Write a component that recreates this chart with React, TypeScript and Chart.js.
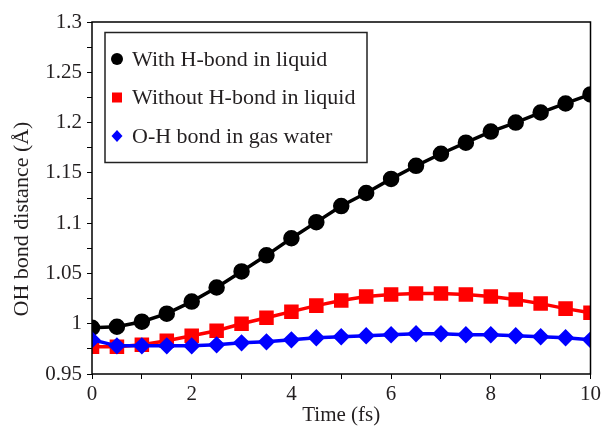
import React, { useEffect, useRef } from "react";
import { Chart, registerables } from "chart.js";

Chart.register(...registerables);

const times = [0, 0.5, 1, 1.5, 2, 2.5, 3, 3.5, 4, 4.5, 5, 5.5, 6, 6.5, 7, 7.5, 8, 8.5, 9, 9.5, 10];
const withHBond = [0.996, 0.997, 1.002, 1.01, 1.022, 1.036, 1.052, 1.068, 1.085, 1.101, 1.117, 1.13, 1.144, 1.157, 1.169, 1.18, 1.191, 1.2, 1.21, 1.219, 1.228];
const withoutHBond = [0.977, 0.977, 0.979, 0.983, 0.988, 0.993, 1.0, 1.006, 1.012, 1.018, 1.023, 1.027, 1.029, 1.03, 1.03, 1.029, 1.027, 1.024, 1.02, 1.015, 1.011];
const gasWater = [0.984, 0.978, 0.978, 0.978, 0.978, 0.979, 0.981, 0.982, 0.984, 0.986, 0.987, 0.988, 0.989, 0.99, 0.99, 0.989, 0.989, 0.988, 0.987, 0.986, 0.984];
const seriesLabels = ["With H-bond in liquid", "Without H-bond in liquid", "O-H bond in gas water"];
const xTitle = "Time (fs)";
const yTitle = "OH bond distance (Å)";

const FONT = "'Liberation Serif', 'Times New Roman', serif";
const TEXT = "#231f20";

const frame = {
  id: "frame",
  afterDatasetsDraw(chart: any) {
    const { ctx, chartArea: a } = chart;
    ctx.save();
    ctx.strokeStyle = "#000";
    ctx.lineWidth = 1.5;
    ctx.strokeRect(a.left, a.top, a.right - a.left, a.bottom - a.top);

    // legend
    const bx = a.left + 13, by = a.top + 10.5, bw = 262, bh = 130;
    ctx.fillStyle = "#fff";
    ctx.fillRect(bx, by, bw, bh);
    ctx.strokeStyle = "#222";
    ctx.lineWidth = 1.5;
    ctx.strokeRect(bx, by, bw, bh);
    const ds = chart.data.datasets;
    ds.forEach((d: any, i: number) => {
      const cy = by + 26.5 + i * 38.5;
      const cx = bx + 12;
      ctx.fillStyle = d.pointBackgroundColor;
      ctx.beginPath();
      if (d.pointStyle === "circle") {
        ctx.arc(cx, cy, 6, 0, Math.PI * 2);
      } else if (d.pointStyle === "rect") {
        ctx.rect(cx - 5, cy - 5, 10, 10);
      } else {
        ctx.moveTo(cx, cy - 6);
        ctx.lineTo(cx + 5.5, cy);
        ctx.lineTo(cx, cy + 6);
        ctx.lineTo(cx - 5.5, cy);
        ctx.closePath();
      }
      ctx.fill();
      ctx.fillStyle = TEXT;
      ctx.font = `22px ${FONT}`;
      ctx.textBaseline = "middle";
      ctx.textAlign = "left";
      ctx.fillText(d.label, bx + 27, cy + 1);
    });

    // axis titles
    ctx.fillStyle = TEXT;
    ctx.font = `21px ${FONT}`;
    ctx.textAlign = "center";
    ctx.textBaseline = "middle";
    ctx.fillText(xTitle, (a.left + a.right) / 2, 415);
    ctx.save();
    ctx.translate(22, 219);
    ctx.rotate(-Math.PI / 2);
    ctx.font = `22px ${FONT}`;
    ctx.fillText(yTitle, 0, 0);
    ctx.restore();
    ctx.restore();
  },
};

const isMult = (v: number, step: number) => Math.abs(v / step - Math.round(v / step)) < 1e-6;

export default function App() {
  const ref = useRef<HTMLCanvasElement>(null);
  useEffect(() => {
    if (!ref.current) return;
    const mk = (arr: number[]) => arr.map((y, i) => ({ x: times[i], y }));
    const chart = new Chart(ref.current, {
      type: "line",
      data: {
        datasets: [
          {
            label: seriesLabels[0],
            data: mk(withHBond),
            borderColor: "#000",
            backgroundColor: "#000",
            pointBackgroundColor: "#000",
            pointBorderColor: "#000",
            pointStyle: "circle",
            pointRadius: 6.5,
            borderWidth: 3.5,
            order: 2,
          },
          {
            label: seriesLabels[1],
            data: mk(withoutHBond),
            borderColor: "#ff0000",
            backgroundColor: "#ff0000",
            pointBackgroundColor: "#ff0000",
            pointBorderColor: "#ff0000",
            pointStyle: "rect",
            pointRadius: 7.8,
            borderWidth: 3.5,
            order: 1,
          },
          {
            label: seriesLabels[2],
            data: mk(gasWater),
            borderColor: "#0000ff",
            backgroundColor: "#0000ff",
            pointBackgroundColor: "#0000ff",
            pointBorderColor: "#0000ff",
            pointStyle: "rectRot",
            pointRadius: 6.2,
            borderWidth: 3.5,
            order: 0,
          },
        ] as any,
      },
      options: {
        responsive: false,
        animation: false,
        layout: { padding: { left: 0, top: 22, right: 12, bottom: 0 } },
        plugins: { legend: { display: false }, tooltip: { enabled: false } },
        elements: { line: { tension: 0 }, point: { borderWidth: 0 } },
        scales: {
          x: {
            type: "linear",
            min: 0,
            max: 10,
            afterFit: (s: any) => { s.height = 52; },
            border: { display: false },
            grid: { drawOnChartArea: false, drawTicks: true, tickLength: 5, color: "#000", lineWidth: 1 },
            ticks: {
              stepSize: 1,
              padding: 3,
              color: TEXT,
              font: { family: FONT, size: 21 },
              maxRotation: 0,
              autoSkip: false,
              callback: (v: any) => (isMult(Number(v), 2) ? String(Math.round(Number(v))) : ""),
            },
          },
          y: {
            type: "linear",
            min: 0.95,
            max: 1.3,
            afterFit: (s: any) => { s.width = 92; },
            border: { display: false },
            grid: { drawOnChartArea: false, drawTicks: true, tickLength: 5, color: "#000", lineWidth: 1 },
            ticks: {
              stepSize: 0.025,
              padding: 5,
              color: TEXT,
              font: { family: FONT, size: 21 },
              autoSkip: false,
              callback: (v: any) => {
                const n = Number(v);
                return isMult(n, 0.05) ? String(Math.round(n * 100) / 100) : "";
              },
            },
          },
        },
      },
      plugins: [frame],
    });
    return () => chart.destroy();
  }, []);
  return (
    <div style={{ position: "fixed", left: 0, top: 0, width: 604, height: 426, background: "#fff" }}>
      <canvas ref={ref} width={604} height={426} style={{ width: 604, height: 426, display: "block" }} />
    </div>
  );
}
